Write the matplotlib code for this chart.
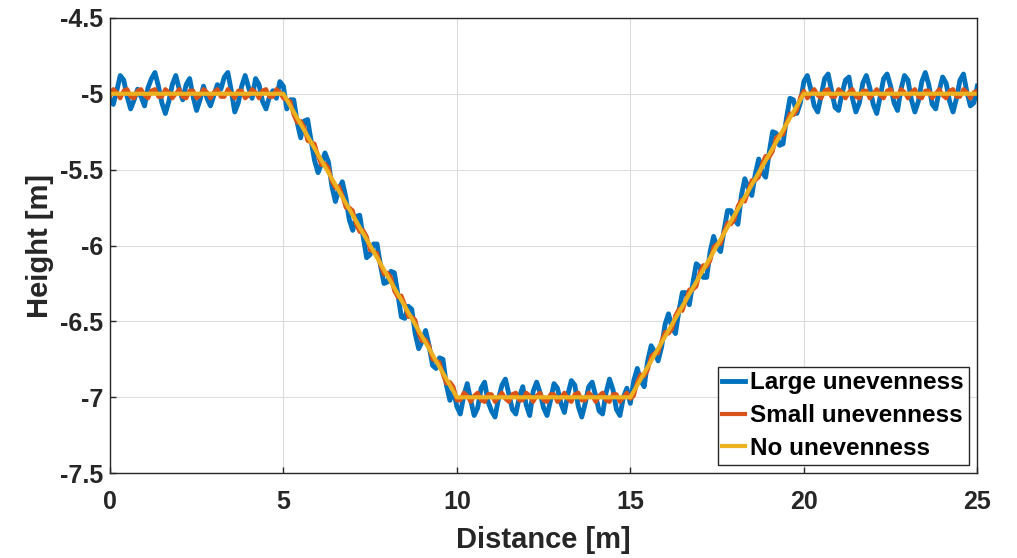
import numpy as np
import matplotlib
matplotlib.use("Agg")
import matplotlib.pyplot as plt

plt.rcParams["font.family"] = ["Liberation Sans", "DejaVu Sans"]
plt.rcParams["font.weight"] = "bold"
plt.rcParams["axes.unicode_minus"] = False

# road profile without unevenness (breakpoints)
profile_x = [0, 5, 10, 15, 20, 25]
profile_h = [-5, -5, -7, -7, -5, -5]

# sample spacing 0.1 m, 0 .. 25 m
distance = np.linspace(0, 25, 251)

# deviations, in cm
large_dev_cm = [
    -3, -7, 2, 12, 9, -2, -10, -4, 3, -2,
    -8, 4, 10, 14, 5, -6, -13, -5, 6, 12,
    3, -4, 6, 10, -2, -11, -4, 5, -3, -8,
    -1, 6, 3, 11, 14, 2, -12, -6, 5, 12,
    4, -3, 10, 6, -5, -10, -2, 2, -3, 8,
    5, -6, 4, 8, -3, -9, 6, 11, 1, -8,
    -12, -2, 9, 7, -5, -11, 1, 10, 4, -7,
    -10, 3, 8, -2, -12, -6, 5, 9, -1, -9,
    -4, 7, 10, 0, -11, -8, 4, 6, -6, -12,
    -3, 8, 2, -7, -5, 6, 9, -4, -10, 1,
    -6, -11, 1, 9, -2, -12, -7, 6, 10, -3,
    -9, -13, -1, 8, 12, 2, -8, -11, 0, 7,
    -5, -12, 4, 10, 3, -7, -12, -2, 9, 6,
    -4, -10, 2, 11, 8, -6, -13, -4, 7, 10,
    1, -9, -11, 3, 12, 5, -8, -12, 0, 6,
    -4, 7, 11, -1, -9, 4, 10, 2, -8, -3,
    8, 11, -2, -10, 1, 9, 5, -7, 3, 12,
    6, -5, -9, 4, 10, -1, -8, 2, 11, 7,
    -3, -10, 5, 12, 2, -7, 3, 9, -4, -11,
    1, 11, 6, -6, -9, 4, 13, 8, -5, -2,
    8, 12, 3, -8, -12, -1, 10, 13, 2, -9,
    -11, 0, 9, 11, -3, -12, -6, 7, 12, 4,
    -7, -13, -2, 10, 13, 5, -6, -11, 3, 12,
    9, -4, -12, -5, 8, 14, 6, -7, -10, 2,
    11, 7, -5, -12, -3, 9, 13, 1, -8, -6,
    5,
]

small_dev_cm = [
    -2, 3, 1, -3, 2, 3, -2, -3, 2, 3,
    -1, -3, 2, 3, -2, -2, 3, 1, -3, 0,
    3, -2, -3, 2, 2, -3, -1, 3, 1, -3,
    1, 3, -2, -2, 3, 0, -3, 2, 2, -3,
    -1, 3, 1, -3, 2, 3, -2, -2, 3, 1,
    -3, 0, 3, -2, -3, 2, 2, -3, 0, 3,
    -1, -3, 2, 3, -2, -2, 3, 1, -3, 1,
    3, -2, -3, 2, 2, -3, 0, 3, -1, -3,
    2, 3, -2, -2, 3, 1, -3, 1, 3, -2,
    -3, 2, 2, -3, 0, 3, -1, -3, 2, 3,
    -2, -2, 3, 1, -3, 1, 3, -2, -3, 2,
    2, -3, 0, 3, -1, -3, 2, 3, -2, -2,
    3, 1, -3, 1, 3, -2, -3, 2, 2, -3,
    0, 3, -1, -3, 2, 3, -2, -2, 3, 1,
    -3, 1, 3, -2, -3, 2, 2, -3, 0, 3,
    -1, -3, 2, 3, -2, -2, 3, 1, -3, 1,
    3, -2, -3, 2, 2, -3, 0, 3, -1, -3,
    2, 3, -2, -2, 3, 1, -3, 1, 3, -2,
    -3, 2, 2, -3, 0, 3, -1, -3, 2, 3,
    -2, -2, 3, 1, -3, 1, 3, -2, -3, 2,
    2, -3, 0, 3, -1, -3, 2, 3, -2, -2,
    3, 1, -3, 1, 3, -2, -3, 2, 2, -3,
    0, 3, -1, -3, 2, 3, -2, -2, 3, 1,
    -3, 1, 3, -2, -3, 2, 2, -3, 0, 3,
    -1, -3, 2, 3, -2, -2, 3, 1, -3, 1,
    2,
]

yticks = [-7.5, -7, -6.5, -6, -5.5, -5, -4.5]
ytick_labels = ["-7.5", "-7", "-6.5", "-6", "-5.5", "-5", "-4.5"]
xticks = [0, 5, 10, 15, 20, 25]

base = np.interp(distance, profile_x, profile_h)
large = base + np.array(large_dev_cm) / 100
small = base + np.array(small_dev_cm) / 100

fig = plt.figure(figsize=(10.17, 5.58), dpi=100)
ax = fig.add_axes([0.108, 0.152, 0.853, 0.816])

ax.plot(distance, large, color="#0072BD", lw=3.5, label="Large unevenness")
ax.plot(distance, small, color="#D95319", lw=3, label="Small unevenness")
ax.plot(profile_x, profile_h, color="#EDB120", lw=3, label="No unevenness")

ax.set_xlim(0, 25)
ax.set_ylim(-7.5, -4.5)
ax.set_xticks(xticks)
ax.set_yticks(yticks)
ax.set_yticklabels(ytick_labels)
ax.tick_params(labelsize=18, direction="in", length=4, width=1, colors="#262626")
ax.tick_params(axis="x", pad=12)
ax.tick_params(axis="y", pad=5)
ax.grid(True, color="#dcdcdc", lw=0.8)
ax.set_axisbelow(True)
for s in ax.spines.values():
    s.set_linewidth(1)
    s.set_color("#262626")

ax.set_xlabel("Distance [m]", fontsize=21, fontweight="bold", labelpad=9, color="#262626")
ax.set_ylabel("Height [m]", fontsize=21, fontweight="bold", labelpad=4, color="#262626")

leg = ax.legend(loc="lower right", fontsize=17.5, frameon=True, fancybox=False,
                handlelength=0.95, handletextpad=0.2, borderpad=0.2,
                labelspacing=0.4, borderaxespad=0.35)
leg.get_frame().set_edgecolor("#262626")
leg.get_frame().set_linewidth(1)
leg.get_frame().set_alpha(1)

fig.savefig("out.png", dpi=100)
